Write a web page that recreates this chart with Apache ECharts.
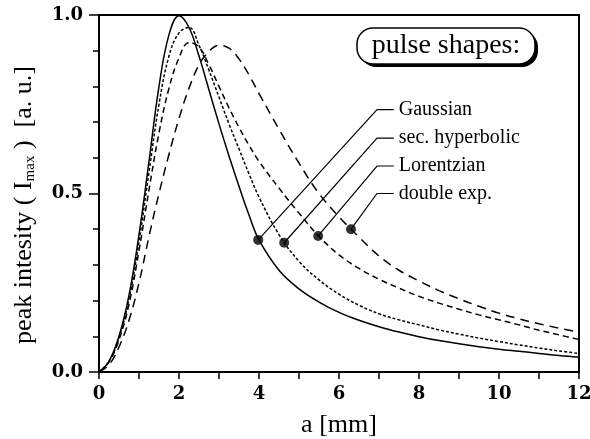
<!DOCTYPE html>
<html><head><meta charset="utf-8">
<script src="https://cdn.jsdelivr.net/npm/echarts@6/dist/echarts.min.js"></script>
<style>html,body{margin:0;padding:0;background:#fff}#c{width:590px;height:439px}</style>
</head><body><div id="c"></div>
<script>
// ---- data ----
var xs = [0,0.25,0.5,0.75,1,1.25,1.5,1.75,2,2.25,2.5,2.75,3,3.25,3.5,3.75,4,4.5,5,5.5,6,6.5,7,7.5,8,8.5,9,9.5,10,10.5,11,11.5,12];
var gaussian = [0,0.03,0.10,0.215,0.385,0.59,0.80,0.945,0.998,0.965,0.885,0.79,0.695,0.605,0.52,0.44,0.37,0.285,0.233,0.196,0.167,0.145,0.127,0.112,0.099,0.088,0.079,0.071,0.064,0.058,0.052,0.046,0.041];
var sech = [0,0.03,0.095,0.205,0.365,0.56,0.75,0.885,0.95,0.965,0.915,0.845,0.77,0.695,0.625,0.555,0.49,0.385,0.31,0.258,0.218,0.187,0.163,0.146,0.132,0.118,0.106,0.095,0.085,0.076,0.067,0.059,0.052];
var lorentz = [0,0.028,0.09,0.19,0.34,0.51,0.67,0.795,0.88,0.923,0.91,0.86,0.80,0.74,0.685,0.635,0.59,0.515,0.445,0.38,0.328,0.29,0.26,0.235,0.212,0.193,0.176,0.16,0.146,0.132,0.117,0.104,0.091];
var dexp = [0,0.02,0.07,0.145,0.25,0.38,0.50,0.61,0.71,0.795,0.86,0.898,0.915,0.907,0.877,0.832,0.78,0.68,0.585,0.50,0.435,0.378,0.325,0.285,0.255,0.228,0.205,0.184,0.165,0.149,0.135,0.123,0.112];
var names = ['Gaussian','sec. hyperbolic','Lorentzian','double exp.'];
var dotX = [3.98,4.63,5.48,6.3];
var dotY = [0.37,0.362,0.381,0.40];
var labelX = [6.95,6.95,6.95,6.95];
var labelY = [0.735,0.655,0.577,0.50];
var xTicks = [0,2,4,6,8,10,12];
var yTicks = [0.0,0.5,1.0];

var serif = 'Liberation Serif';
function zip(a,b){return a.map(function(v,i){return [v,b[i]];});}
var curves = [gaussian,sech,lorentz,dexp];
var dashes = ['solid',[3,2],[6,4],[9,6]];

var series = [];
curves.forEach(function(c,i){
  series.push({type:'line',data:zip(xs,c),smooth:0.4,symbol:'none',silent:true,
    lineStyle:{color:'#000',width:1.5,type:dashes[i]},z:3});
});
names.forEach(function(n,i){
  series.push({type:'line',name:n,symbol:'none',silent:true,
    data:[[dotX[i],dotY[i]],[labelX[i],labelY[i]],[labelX[i]+0.42,labelY[i]]],
    lineStyle:{color:'#000',width:1.2},z:2,
    endLabel:{show:true,formatter:'{a}',distance:5,fontFamily:serif,fontSize:20,color:'#000'}});
});
series.push({type:'scatter',data:zip(dotX,dotY),symbolSize:10,itemStyle:{color:'#000'},z:5,silent:true});

var chart = echarts.init(document.getElementById('c'));
chart.setOption({
  animation:false,
  grid:{left:99,right:11,top:15,bottom:67,containLabel:false,outerBoundsMode:'none',
    show:true,borderColor:'#000',borderWidth:2,backgroundColor:'transparent'},
  xAxis:{type:'value',min:0,max:12,interval:1,
    name:'a [mm]',nameLocation:'middle',nameGap:40,
    nameTextStyle:{fontFamily:serif,fontSize:26,color:'#000'},
    axisLine:{lineStyle:{color:'#000',width:2}},
    axisTick:{inside:false,length:7,lineStyle:{color:'#000',width:1.5}},
    axisLabel:{margin:13,formatter:function(v){return xTicks.indexOf(v)>=0?String(v):'';},
      fontFamily:'DejaVu Serif',fontWeight:'bold',fontSize:18,color:'#000'},
    splitLine:{show:false}},
  yAxis:[{type:'value',min:0,max:1,interval:0.1,
    axisLine:{show:true,lineStyle:{color:'#000',width:2}},
    axisTick:{show:true,length:6,lineStyle:{color:'#000',width:1.5}},
    axisLabel:{show:false},splitLine:{show:false}},
   {type:'value',min:0,max:1,interval:0.5,position:'left',
    axisLine:{show:false},
    axisTick:{show:true,length:10,lineStyle:{color:'#000',width:1.5}},
    axisLabel:{margin:16,formatter:function(v){
        for(var k=0;k<yTicks.length;k++){if(Math.abs(v-yTicks[k])<1e-6)return yTicks[k].toFixed(1);} return '';},
      fontFamily:'DejaVu Serif',fontWeight:'bold',fontSize:18,color:'#000'},
    splitLine:{show:false}}],
  graphic:[
    {type:'rect',shape:{x:360,y:31,width:178,height:36,r:16},style:{fill:'#000'},z:10},
    {type:'rect',shape:{x:357,y:28,width:178,height:36,r:16},style:{fill:'#fff',stroke:'#000',lineWidth:1.5},z:11},
    {type:'text',x:446,y:46,z:12,style:{text:'pulse shapes:',fontFamily:serif,fontSize:28,fill:'#000',align:'center',verticalAlign:'middle'}},
    {type:'text',x:24,y:205,rotation:Math.PI/2,z:12,style:{
      text:'{a|peak intesity ( I}{s|max}{a| )  [a. u.]}',align:'center',verticalAlign:'middle',
      rich:{a:{fontFamily:serif,fontSize:26,fill:'#000',lineHeight:30},
            s:{fontFamily:serif,fontSize:15,fill:'#000',lineHeight:30,padding:[12,0,0,0]}}}}
  ],
  series:series
});
</script></body></html>
